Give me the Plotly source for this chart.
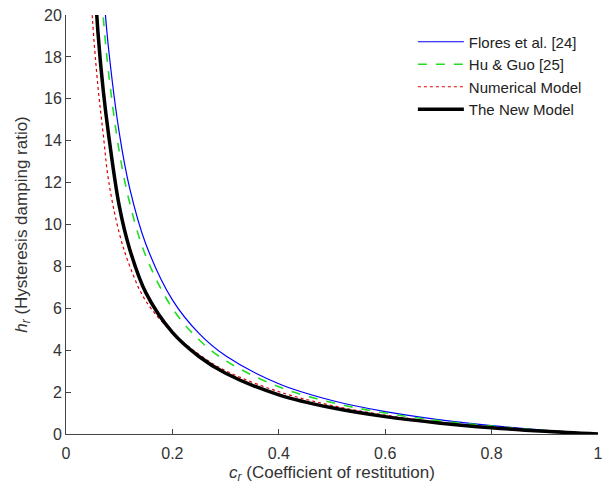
import plotly.graph_objects as go

# Coefficient of restitution sample points
cr_flores = [0.07, 0.08, 0.10, 0.12, 0.15, 0.20, 0.25, 0.30, 0.40, 0.50, 0.60, 0.70, 0.80, 0.90, 1.00]
hr_flores = [21.3, 18.4, 14.4, 11.7, 9.07, 6.40, 4.80, 3.73, 2.40, 1.60, 1.07, 0.69, 0.40, 0.18, 0.0]

cr_huguo = [0.065, 0.07, 0.08, 0.10, 0.12, 0.15, 0.20, 0.25, 0.30, 0.40, 0.50, 0.60, 0.70, 0.80, 0.90, 1.00]
hr_huguo = [21.6, 19.9, 17.25, 13.5, 11.0, 8.5, 6.0, 4.5, 3.5, 2.25, 1.5, 1.0, 0.64, 0.375, 0.167, 0.0]

cr_num = [0.045, 0.05, 0.06, 0.07, 0.08, 0.10, 0.12, 0.15, 0.20, 0.25, 0.30, 0.40, 0.50, 0.60, 0.70, 0.80, 0.90, 1.00]
hr_num = [22.0, 19.7, 16.6, 14.3, 12.1, 9.6, 8.0, 6.35, 4.85, 3.8, 3.02, 2.02, 1.36, 0.90, 0.57, 0.32, 0.14, 0.0]

cr_new = [0.05, 0.06, 0.07, 0.08, 0.10, 0.12, 0.15, 0.20, 0.25, 0.30, 0.40, 0.50, 0.60, 0.70, 0.80, 0.90, 1.00]
hr_new = [23.5, 19.2, 16.4, 14.3, 10.9, 8.8, 6.75, 4.85, 3.7, 2.9, 1.87, 1.25, 0.83, 0.53, 0.30, 0.13, 0.0]

names = ["Flores et al. [24]", "Hu &amp; Guo [25]", "Numerical Model", "The New Model"]

fig = go.Figure()
fig.add_trace(go.Scatter(x=cr_flores, y=hr_flores, mode="lines", name=names[0],
                         line=dict(color="#0000ff", width=1.2, shape="spline")))
fig.add_trace(go.Scatter(x=cr_huguo, y=hr_huguo, mode="lines", name=names[1],
                         line=dict(color="#22dd22", width=1.6, dash="dash", shape="spline")))
fig.add_trace(go.Scatter(x=cr_num, y=hr_num, mode="lines", name=names[2],
                         line=dict(color="#e00000", width=1.2, dash="dot", shape="spline")))
fig.add_trace(go.Scatter(x=cr_new, y=hr_new, mode="lines", name=names[3],
                         line=dict(color="#000000", width=3.5, shape="spline")))

axis_common = dict(showgrid=False, zeroline=False, showline=True, linecolor="#444444",
                   linewidth=1, ticks="inside", ticklen=5, tickcolor="#444444",
                   mirror=False, tickfont=dict(family="Liberation Sans, Arial", size=16, color="#333333"))

fig.update_layout(
    width=610, height=491,
    margin=dict(l=66, r=7, t=14, b=57),
    paper_bgcolor="white", plot_bgcolor="white",
    font=dict(family="Liberation Sans, Arial", color="#333333"),
    xaxis=dict(range=[0, 1], dtick=0.2, tick0=0, ticklabelstandoff=5,
               title=dict(text="<i>c</i><sub><i>r</i></sub> (Coefficient of restitution)",
                          font=dict(size=17, color="#333333"), standoff=4),
               **axis_common),
    yaxis=dict(range=[0, 20], dtick=2, tick0=0,
               title=dict(text="<i>h</i><sub><i>r</i></sub> (Hysteresis damping ratio)",
                          font=dict(size=17, color="#333333"), standoff=12),
               **axis_common),
    legend=dict(x=0.652, y=0.975, xanchor="left", yanchor="top", itemwidth=46,
                bgcolor="rgba(0,0,0,0)", font=dict(size=15, color="#222222"),
                tracegroupgap=0),
    showlegend=True,
)

fig.write_html("out.html")
